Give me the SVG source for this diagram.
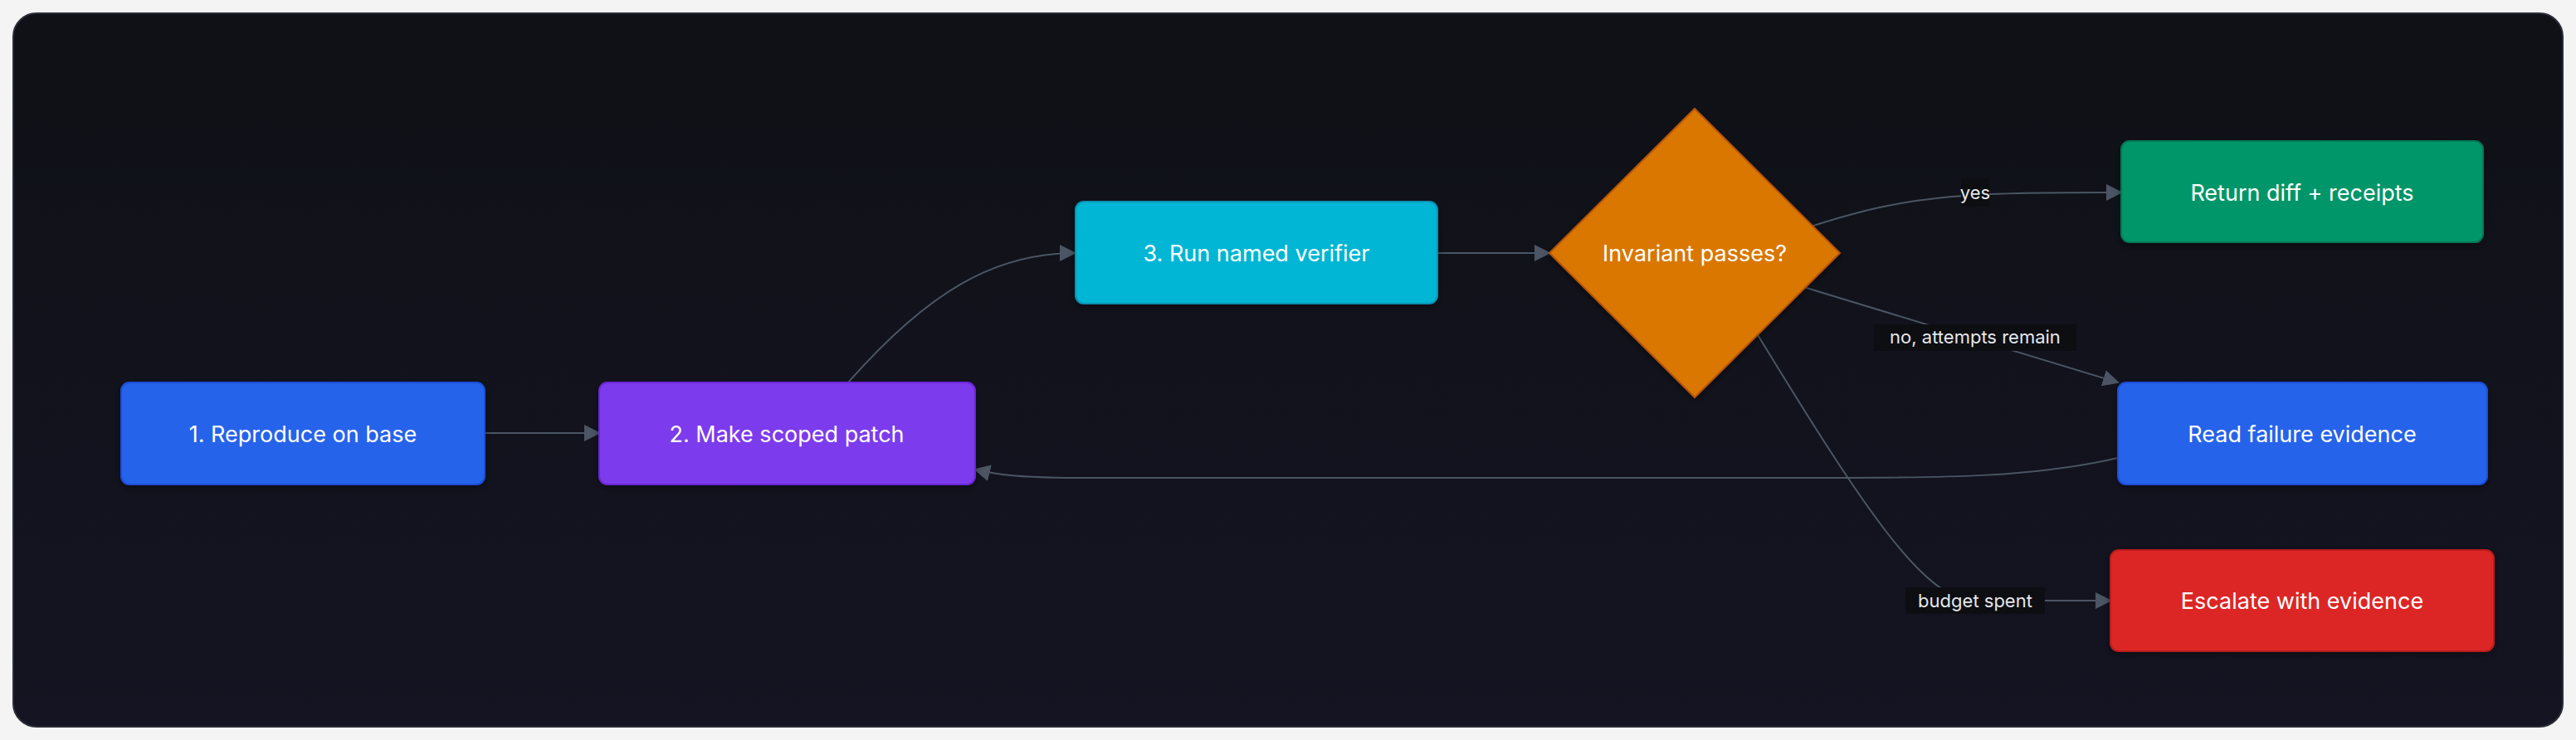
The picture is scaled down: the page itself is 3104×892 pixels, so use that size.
<svg xmlns="http://www.w3.org/2000/svg" width="3104" height="892" viewBox="0 0 3104 892">
<defs>
<linearGradient id="bg" x1="0" y1="0" x2="0" y2="1"><stop offset="0" stop-color="#0f1116"/><stop offset="1" stop-color="#141422"/></linearGradient>
<marker id="arr" viewBox="0 0 10 10" refX="9" refY="5" markerWidth="7" markerHeight="7" markerUnits="userSpaceOnUse" orient="auto"><path d="M0,0L10,5L0,10z" fill="#4b5563"/></marker>
<marker id="ah" viewBox="0 0 10 10" refX="9" refY="5" markerWidth="20" markerHeight="20" markerUnits="userSpaceOnUse" orient="auto"><path d="M0,0L10,5L0,10z" fill="#4b5563"/></marker>
<filter id="sh" x="-10%" y="-10%" width="120%" height="130%"><feDropShadow dx="0" dy="3" stdDeviation="4" flood-color="#000" flood-opacity="0.4"/></filter>
</defs>
<style>
.t{font-family:Inter,"Noto Sans",sans-serif;font-size:27px;fill:#ffffff;text-anchor:middle;dominant-baseline:central}
.l{font-family:Inter,"Noto Sans",sans-serif;font-size:22px;fill:#e5e7eb;text-anchor:middle;dominant-baseline:central}
.e{fill:none;stroke:#4b5563;stroke-width:2;marker-end:url(#ah)}
.n{stroke-width:2;filter:url(#sh)}
</style>
<rect width="3104" height="892" fill="#f4f4f5"/>
<rect x="16" y="16" width="3072" height="860" rx="28" fill="url(#bg)" stroke="#2a2d36" stroke-width="2"/>
<g id="connectors">
<path class="e" d="M584,522 L722,522"/>
<path class="e" d="M1022,461 C1120,350 1200,305 1295,305"/>
<path class="e" d="M1732,305 L1867,305"/>
<path class="e" d="M2182,273 C2300,235 2360,232 2556,232"/>
<path class="e" d="M2170,345 L2552,461"/>
<path class="e" d="M2117,402 C2250,620 2320,724 2380,724 L2543,724"/>
<path class="e" d="M2552,552 C2450,575 2350,576 2200,576 L1300,576 C1230,576 1200,572 1175,566"/>
<rect x="2363" y="215" width="34" height="34" fill="#0d0e12"/>
<text class="l" x="2380" y="232">yes</text>
<rect x="2258" y="391" width="244" height="32" fill="#0d0e12"/>
<text class="l" x="2380" y="406">no, attempts remain</text>
<rect x="2296" y="708" width="168" height="32" fill="#0d0e12"/>
<text class="l" x="2380" y="724">budget spent</text>
</g>
<g id="n1"><rect class="n" x="146" y="461" width="438" height="123" rx="10" fill="#2563eb" stroke="#1d4ed8"/><text class="t" x="365" y="523">1. Reproduce on base</text></g>
<g id="n2"><rect class="n" x="722" y="461" width="453" height="123" rx="10" fill="#7c3aed" stroke="#6d28d9"/><text class="t" x="948" y="523">2. Make scoped patch</text></g>
<g id="n3"><rect class="n" x="1296" y="243" width="436" height="123" rx="10" fill="#06b6d4" stroke="#0891b2"/><text class="t" x="1514" y="305">3. Run named verifier</text></g>
<g id="d"><polygon class="n" points="2042,131 2217,305 2042,479 1867,305" fill="#d97706" stroke="#b45309"/><text class="t" x="2042" y="305">Invariant passes?</text></g>
<g id="ret"><rect class="n" x="2556" y="170" width="436" height="122" rx="10" fill="#059669" stroke="#047857"/><text class="t" x="2774" y="232">Return diff + receipts</text></g>
<g id="read"><rect class="n" x="2552" y="461" width="445" height="123" rx="10" fill="#2563eb" stroke="#1d4ed8"/><text class="t" x="2774" y="523">Read failure evidence</text></g>
<g id="esc"><rect class="n" x="2543" y="663" width="462" height="122" rx="10" fill="#dc2626" stroke="#b91c1c"/><text class="t" x="2774" y="724">Escalate with evidence</text></g>
</svg>
